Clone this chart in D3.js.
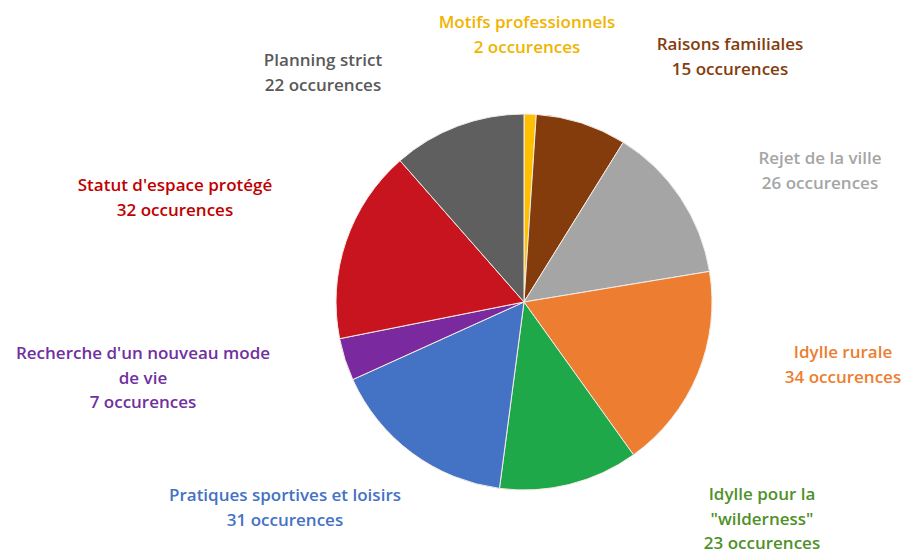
<!DOCTYPE html>
<meta charset="utf-8">
<style>
    body { margin: 0; background: #fff; }
    text { font-family: "Open Sans", Lato, sans-serif; font-weight: 600; }
</style>
<script src="https://d3js.org/d3.v7.min.js"></script>
<div id="chart"></div>
<script>
    // categories (clockwise from the top) and their counts
    var categories = ["Motifs professionnels", "Raisons familiales", "Rejet de la ville", "Idylle rurale",
        "Idylle pour la \"wilderness\"", "Pratiques sportives et loisirs", "Recherche d'un nouveau mode de vie",
        "Statut d'espace protégé", "Planning strict"];
    var counts = [2, 15, 26, 34, 23, 31, 7, 32, 22];
    var sliceColors = ["#ffc000", "#843c0c", "#a5a5a5", "#ed7d31", "#1fa84a", "#4472c4", "#7a2a9e", "#c8141e", "#5f5f5f"];
    var textColors = ["#f0b400", "#843c0c", "#a5a5a5", "#ed7d31", "#4f9128", "#4472c4", "#7030a0", "#c00000", "#595959"];

    // label line breaks (as in the original), and label centre positions in px
    var labelLines = [
        ["Motifs professionnels"], ["Raisons familiales"], ["Rejet de la ville"], ["Idylle rurale"],
        ["Idylle pour la", "\"wilderness\""], ["Pratiques sportives et loisirs"],
        ["Recherche d'un nouveau mode", "de vie"], ["Statut d'espace protégé"], ["Planning strict"]
    ];
    var labelAt = [[527, 28], [730, 50], [820, 164], [843, 358], [762, 500], [285, 501], [143, 359], [175, 191], [323, 66]];

    var width = 905, height = 554;
    var cx = 524, cy = 302, radius = 188;

    var svg = d3.select("#chart").append("svg")
        .attr("width", width)
        .attr("height", height);

    var pie = d3.pie().sort(null).value(function (d) { return d; });
    var arc = d3.arc().innerRadius(0).outerRadius(radius);

    var g = svg.append("g").attr("transform", "translate(" + cx + "," + cy + ")");

    g.selectAll("path")
        .data(pie(counts))
        .enter().append("path")
        .attr("d", arc)
        .attr("fill", function (d, i) { return sliceColors[i]; })
        .attr("stroke", "#f4ece6")
        .attr("stroke-width", 1);

    // labels: name lines then "N occurences"
    var lineH = 24.5;
    var labels = svg.selectAll("text.lbl")
        .data(categories)
        .enter().append("text")
        .attr("class", "lbl")
        .attr("text-anchor", "middle")
        .attr("font-size", 17)
        .attr("fill", function (d, i) { return textColors[i]; });

    labels.each(function (d, i) {
        var t = d3.select(this);
        var lines = labelLines[i].concat([counts[i] + " occurences"]);
        lines.forEach(function (s, k) {
            t.append("tspan")
                .attr("x", labelAt[i][0])
                .attr("y", labelAt[i][1] + k * lineH)
                .text(s);
        });
    });
</script>
